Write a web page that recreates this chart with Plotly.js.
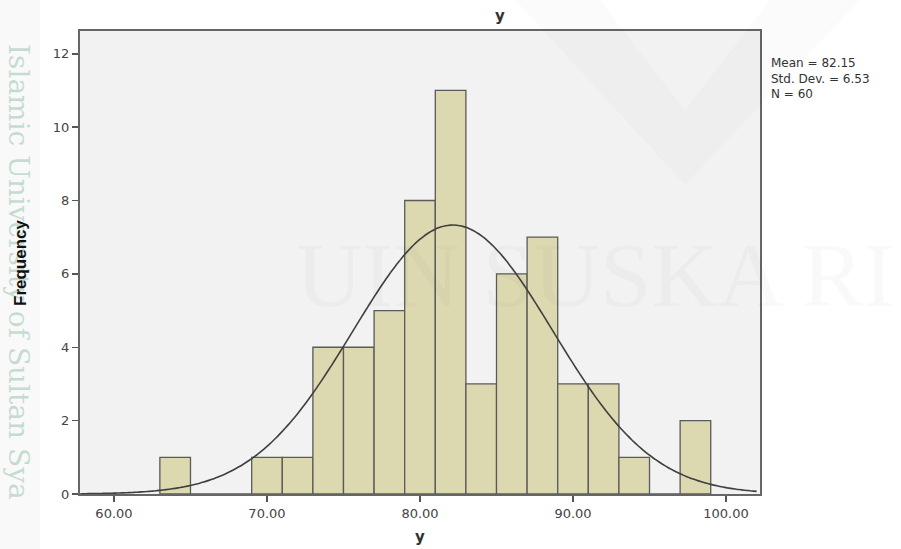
<!DOCTYPE html>
<html>
<head>
<meta charset="utf-8">
<script src="https://cdn.plot.ly/plotly-3.0.1.min.js"></script>
<style>html,body{margin:0;padding:0;background:#fff;}#chart{width:901px;height:549px;}</style>
</head>
<body>
<div id="chart"></div>
<script>
// Histogram bins (lower edges, width 2) and frequencies
const binStarts = [63, 65, 67, 69, 71, 73, 75, 77, 79, 81, 83, 85, 87, 89, 91, 93, 95, 97];
const frequencies = [1, 0, 0, 1, 1, 4, 4, 5, 8, 11, 3, 6, 7, 3, 3, 1, 0, 2];
const binWidth = 2;
const xTickVals = [60, 70, 80, 90, 100];
const xTickText = ["60.00", "70.00", "80.00", "90.00", "100.00"];
const yTickVals = [0, 2, 4, 6, 8, 10, 12];
const statMean = 82.15;
const statSD = 6.53;
const statN = 60;

const binCenters = binStarts.map(s => s + binWidth / 2);

// Fitted normal curve from the stated mean / SD / N (scaled to bin width)
const curveX = [];
const curveY = [];
for (let x = 57.8; x <= 102.2; x += 0.2) {
  curveX.push(x);
  const z = (x - statMean) / statSD;
  curveY.push(statN * binWidth / (statSD * Math.sqrt(2 * Math.PI)) * Math.exp(-0.5 * z * z));
}

const L = 80, R = 760, T = 31, B = 494;
const pw = R - L, ph = B - T;
const px = v => (v - L) / pw;
const py = v => 1 - (v - T) / ph;

const sansWide = 'DejaVu Sans, Verdana, sans-serif';

const traces = [
  {
    type: 'bar', x: binCenters, y: frequencies, width: binWidth,
    marker: {color: '#dcd9b0', line: {color: '#5a5a5a', width: 1.3}},
    hoverinfo: 'x+y'
  },
  {
    type: 'scatter', mode: 'lines', x: curveX, y: curveY,
    line: {color: '#3f3f3f', width: 1.6, shape: 'spline'},
    hoverinfo: 'skip'
  }
];

const statText = 'Mean = ' + statMean.toFixed(2) +
  '<br>Std. Dev. = ' + statSD.toFixed(2) +
  '<br>N = ' + statN;

const annotations = [
  {text: 'Islamic University of Sultan Sya', xref: 'paper', yref: 'paper', x: px(19), y: py(272),
   textangle: 90, showarrow: false, xanchor: 'center', yanchor: 'middle', borderpad: 0,
   font: {family: 'DejaVu Serif, Liberation Serif, serif', size: 28, color: 'rgba(120,180,150,0.42)'}},
  {text: 'UIN SUSKA RI', xref: 'paper', yref: 'paper', x: px(896), y: py(275),
   showarrow: false, xanchor: 'right', yanchor: 'middle',
   font: {family: 'Liberation Serif, DejaVu Serif, serif', size: 92, color: 'rgba(60,60,110,0.03)'}},
  {text: '<b>y</b>', xref: 'paper', yref: 'paper', x: px(500), y: py(16),
   showarrow: false, xanchor: 'center', yanchor: 'middle',
   font: {family: sansWide, size: 15, color: '#333'}},
  {text: '<b>y</b>', xref: 'paper', yref: 'paper', x: px(420), y: py(537),
   showarrow: false, xanchor: 'center', yanchor: 'middle',
   font: {family: sansWide, size: 15, color: '#333'}},
  {text: '<b>Frequency</b>', xref: 'paper', yref: 'paper', x: px(20), y: py(262),
   textangle: -90, showarrow: false, xanchor: 'center', yanchor: 'middle',
   font: {family: 'Liberation Sans Narrow, Arial Narrow, Liberation Sans, sans-serif', size: 17, color: '#111'}},
  {text: statText, xref: 'paper', yref: 'paper', x: px(770), y: py(55), align: 'left',
   showarrow: false, xanchor: 'left', yanchor: 'top', borderpad: 0,
   font: {family: sansWide, size: 12, color: '#333'}}
];

const layout = {
  width: 901, height: 549,
  margin: {l: L, r: 901 - R, t: T, b: 549 - B, pad: 0},
  paper_bgcolor: '#ffffff',
  plot_bgcolor: '#f2f2f2',
  showlegend: false,
  bargap: 0,
  font: {family: sansWide, color: '#444'},
  xaxis: {
    range: [57.78, 102.22],
    tickvals: xTickVals, ticktext: xTickText,
    ticks: 'outside', ticklen: 6, tickwidth: 1.5, tickcolor: '#555',
    tickfont: {family: sansWide, size: 13, color: '#444'},
    showgrid: false, zeroline: false,
    showline: true, linecolor: '#666', linewidth: 2, mirror: true
  },
  yaxis: {
    range: [0, 12.62],
    tickvals: yTickVals,
    ticks: 'outside', ticklen: 6, tickwidth: 1.5, tickcolor: '#555',
    tickfont: {family: sansWide, size: 13, color: '#444'},
    showgrid: false, zeroline: false,
    showline: true, linecolor: '#666', linewidth: 2, mirror: true
  },
  shapes: [
    {type: 'rect', xref: 'paper', yref: 'paper', x0: px(0), x1: px(40), y0: py(549), y1: py(0),
     fillcolor: '#f8f9f8', line: {width: 0}, layer: 'below'},
    {type: 'path', xref: 'paper', yref: 'paper', layer: 'above',
     path: 'M ' + px(515) + ' ' + py(0) + ' L ' + px(600) + ' ' + py(0) + ' L ' + px(685) + ' ' + py(110) +
           ' L ' + px(770) + ' ' + py(0) + ' L ' + px(860) + ' ' + py(0) + ' L ' + px(685) + ' ' + py(185) + ' Z',
     fillcolor: 'rgba(0,0,0,0.016)', line: {width: 0}}
  ],
  annotations: annotations
};

Plotly.newPlot('chart', traces, layout, {displayModeBar: false, staticPlot: true});
</script>
</body>
</html>
